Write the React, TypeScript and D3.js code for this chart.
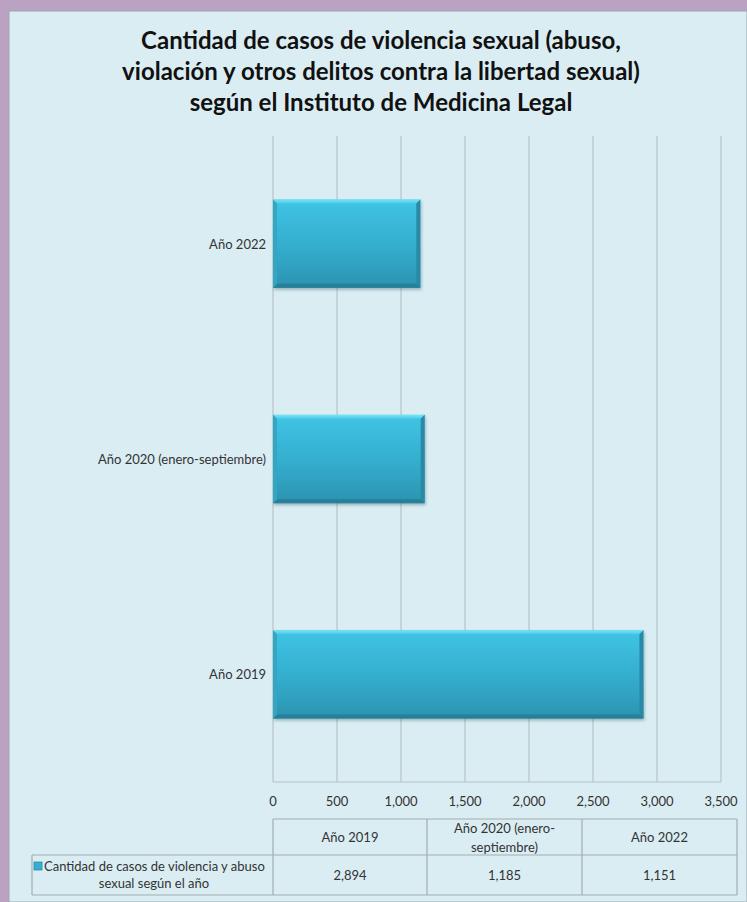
import React from "react";
import * as d3 from "d3";

const categories = ["Año 2019", "Año 2020 (enero-septiembre)", "Año 2022"];
const values = [2894, 1185, 1151];
const valueLabels = ["2,894", "1,185", "1,151"];
const tickValues = [0, 500, 1000, 1500, 2000, 2500, 3000, 3500];
const headerLines = [["Año 2019"], ["Año 2020 (enero-", "septiembre)"], ["Año 2022"]];
const seriesName = ["Cantidad de casos de violencia y abuso", "sexual según el año"];
const titleLines = [
  "Cantidad de casos de violencia sexual (abuso,",
  "violación y otros delitos contra la libertad sexual)",
  "según el Instituto de Medicina Legal",
];

const W = 747;
const H = 902;
const FONT = "Lato, 'Open Sans', sans-serif";

export default function App() {
  const plot = { left: 273, right: 721, top: 136, bottom: 782 };
  const x = d3.scaleLinear().domain([0, 3500]).range([plot.left, plot.right]);
  const order = [...categories].reverse();
  const y = d3.scaleBand().domain(order).range([plot.top, plot.bottom]).paddingInner(0.59).paddingOuter(0.295);
  const bh = y.bandwidth();

  const tableTop = 819;
  const rowSplit = 855;
  const tableBottom = 895;
  const colEdges = [273, 427, 582, 737];
  const legendLeft = 32;

  return (
    <svg width={W} height={H} style={{ position: "absolute", left: 0, top: 0, display: "block" }}>
      <defs>
        <linearGradient id="barGrad" x1="0" y1="0" x2="0" y2="1">
          <stop offset="0" stopColor="#40C4E4" />
          <stop offset="0.5" stopColor="#35AFD0" />
          <stop offset="1" stopColor="#2B93B0" />
        </linearGradient>
        <linearGradient id="topEdge" x1="0" y1="0" x2="0" y2="1">
          <stop offset="0" stopColor="#7BE3F7" />
          <stop offset="1" stopColor="#48CBE9" />
        </linearGradient>
        <filter id="shadow" x="-10%" y="-10%" width="120%" height="130%">
          <feDropShadow dx="1" dy="2" stdDeviation="1.5" floodColor="#1c4a58" floodOpacity="0.35" />
        </filter>
      </defs>
      <rect x={0} y={0} width={W} height={H} fill="#BCA2C2" />
      <rect x={9} y={11} width={W - 9} height={H - 11} fill="#DAEDF3" stroke="#9AA8AE" strokeWidth={1} />

      {titleLines.map((t, i) => (
        <text key={i} x={381} y={49 + i * 31} textAnchor="middle" fontFamily={FONT} fontWeight="bold"
          fontSize={24} fill="#111">{t}</text>
      ))}

      {tickValues.map((v) => (
        <line key={v} x1={x(v)} x2={x(v)} y1={plot.top} y2={plot.bottom} stroke="#B9C3C7" strokeWidth={1.2} />
      ))}
      <line x1={plot.left} x2={plot.right} y1={plot.bottom} y2={plot.bottom} stroke="#B9C3C7" strokeWidth={1.2} />

      {categories.map((c, i) => {
        const y0 = y(c)!;
        const x0 = x(0);
        const x1 = x(values[i]);
        const w = x1 - x0;
        return (
          <g key={c}>
            <rect x={x0} y={y0} width={w} height={bh} fill="url(#barGrad)" filter="url(#shadow)" />
            <polygon points={`${x0},${y0} ${x1},${y0} ${x1 - 4},${y0 + 4} ${x0 + 4},${y0 + 4}`} fill="url(#topEdge)" />
            <polygon points={`${x1},${y0} ${x1},${y0 + bh} ${x1 - 4},${y0 + bh - 4} ${x1 - 4},${y0 + 4}`} fill="#2A8AA5" />
            <polygon points={`${x0},${y0 + bh} ${x1},${y0 + bh} ${x1 - 4},${y0 + bh - 4} ${x0 + 4},${y0 + bh - 4}`} fill="#277F98" />
            <polygon points={`${x0},${y0} ${x0 + 4},${y0 + 4} ${x0 + 4},${y0 + bh - 4} ${x0},${y0 + bh}`} fill="#33A6C4" />
          </g>
        );
      })}

      {categories.map((c) => (
        <text key={c} x={266} y={y(c)! + bh / 2 + 5} textAnchor="end" fontFamily={FONT} fontSize={13} fill="#333">{c}</text>
      ))}

      {tickValues.map((v) => (
        <text key={v} x={x(v)} y={806} textAnchor="middle" fontFamily={FONT} fontSize={13} fill="#333">{d3.format(",")(v)}</text>
      ))}

      <g stroke="#A3AEB2" strokeWidth={1.2} fill="none">
        <line x1={colEdges[0]} x2={colEdges[3]} y1={tableTop} y2={tableTop} />
        <line x1={legendLeft} x2={colEdges[3]} y1={rowSplit} y2={rowSplit} />
        <line x1={legendLeft} x2={colEdges[3]} y1={tableBottom} y2={tableBottom} />
        <line x1={legendLeft} x2={legendLeft} y1={rowSplit} y2={tableBottom} />
        {colEdges.map((cx) => (
          <line key={cx} x1={cx} x2={cx} y1={tableTop} y2={tableBottom} />
        ))}
      </g>
      {headerLines.map((lines, i) => {
        const cx = (colEdges[i] + colEdges[i + 1]) / 2;
        const cy = (tableTop + rowSplit) / 2;
        return lines.map((l, j) => (
          <text key={i + "-" + j} x={cx} y={cy + 5 + (j - (lines.length - 1) / 2) * 19} textAnchor="middle"
            fontFamily={FONT} fontSize={13} fill="#333">{l}</text>
        ));
      })}
      {valueLabels.map((v, i) => (
        <text key={v} x={(colEdges[i] + colEdges[i + 1]) / 2} y={(rowSplit + tableBottom) / 2 + 5} textAnchor="middle"
          fontFamily={FONT} fontSize={13} fill="#333">{v}</text>
      ))}
      <rect x={34} y={862} width={8} height={8} fill="#35AFD0" stroke="#2A8AA5" strokeWidth={0.8} />
      {seriesName.map((s, j) => (
        <text key={s} x={j === 0 ? 44 : 154} y={871 + j * 17} textAnchor={j === 0 ? "start" : "middle"}
          fontFamily={FONT} fontSize={13} fill="#333">{s}</text>
      ))}
    </svg>
  );
}
